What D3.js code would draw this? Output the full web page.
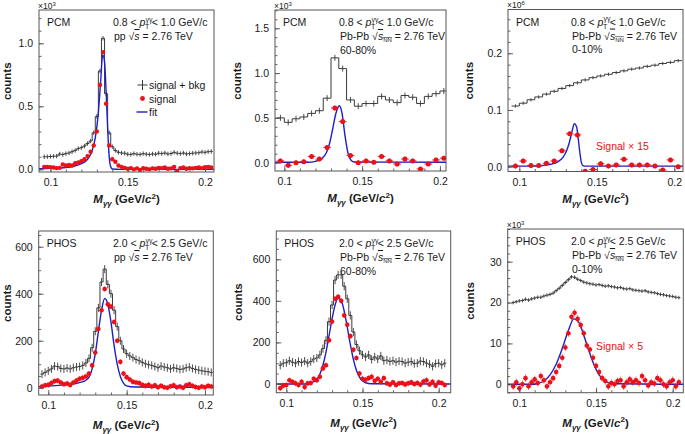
<!DOCTYPE html>
<html><head><meta charset="utf-8">
<script src="https://cdn.jsdelivr.net/npm/d3@7"></script>
<style>
body{margin:0;background:#fff}
svg{display:block}
text{font-family:"Liberation Sans",Arial,Helvetica,sans-serif;fill:#1a1a1a}
</style>
</head><body><svg id="c" width="685" height="434"></svg>
<script>
// ---------------- DATA ----------------
const bins2 = [0.096,0.098,0.100,0.102,0.104,0.106,0.108,0.110,0.112,0.114,
  0.116,0.118,0.120,0.122,0.124,0.126,0.128,0.130,0.132,0.134,
  0.136,0.138,0.140,0.142,0.144,0.146,0.148,0.150,0.152,0.154,
  0.156,0.158,0.160,0.162,0.164,0.166,0.168,0.170,0.172,0.174,
  0.176,0.178,0.180,0.182,0.184,0.186,0.188,0.190,0.192,0.194,
  0.196,0.198,0.200,0.202,0.204];
const bins5 = [0.0975,0.1025,0.1075,0.1125,0.1175,0.1225,0.1275,0.1325,0.1375,0.1425,
  0.1475,0.1525,0.1575,0.1625,0.1675,0.1725,0.1775,0.1825,0.1875,0.1925,0.1975,0.2025];

const xTicks = [0.1, 0.15, 0.2];
const xTickLabels = ["0.1", "0.15", "0.2"];

// Panel 1: PCM pp (x10^3)
const p1Total = [0.100,0.100,0.102,0.104,0.105,0.122,0.118,0.125,0.130,0.140,
  0.150,0.165,0.172,0.185,0.205,0.225,0.290,0.420,0.780,1.040,
  0.600,0.290,0.180,0.150,0.135,0.130,0.128,0.120,0.118,0.125,
  0.120,0.118,0.125,0.120,0.118,0.122,0.120,0.128,0.125,0.130,
  0.122,0.125,0.135,0.128,0.125,0.130,0.122,0.125,0.128,0.130,
  0.132,0.138,0.135,0.140,0.142];
const p1Signal = [0.020,0.020,0.018,0.015,0.010,0.012,0.038,0.030,0.035,0.030,
  0.048,0.055,0.065,0.080,0.105,0.140,0.190,0.300,0.670,0.930,
  0.520,0.190,0.080,0.060,0.030,0.020,0.012,0.005,0.010,0.000,
  0.008,-0.005,0.010,0.005,0.000,0.008,0.005,0.012,0.010,0.015,
  0.005,0.008,0.020,-0.015,0.010,0.015,0.005,0.010,0.008,0.012,
  0.015,0.010,0.018,0.020,0.015];
const p1FitX = [0.092,0.100,0.110,0.115,0.120,0.124,0.127,0.129,0.131,0.1325,0.1338,0.135,0.136,0.137,0.138,0.139,0.140,0.145,0.207];
const p1FitY = [0.005,0.008,0.015,0.025,0.045,0.080,0.150,0.250,0.450,0.700,0.910,0.850,0.620,0.330,0.100,0.020,0.003,0.000,0.000];
const p1YTicks = [0, 0.5, 1.0];
const p1YTickLabels = ["0.0", "0.5", "1.0"];

// Panel 2: PCM Pb-Pb 60-80% (x10^3)
const p2Total = [0.50,0.45,0.49,0.51,0.55,0.58,0.72,1.17,1.05,0.70,0.63,0.66,0.66,0.74,0.70,0.67,0.75,0.73,0.66,0.74,0.77,0.80];
const p2Signal = [0.02,-0.03,0.00,0.01,0.07,0.04,0.17,0.61,0.46,0.08,0.00,0.02,0.005,0.07,0.02,-0.015,0.04,0.02,-0.07,-0.015,0.03,0.05];
const p2FitX = [0.092,0.115,0.120,0.124,0.127,0.129,0.131,0.133,0.1352,0.137,0.139,0.141,0.143,0.145,0.207];
const p2FitY = [0.005,0.005,0.015,0.045,0.110,0.210,0.370,0.540,0.635,0.560,0.300,0.100,0.025,0.008,0.005];
const p2YTicks = [0, 0.5, 1.0, 1.5];
const p2YTickLabels = ["0.0", "0.5", "1.0", "1.5"];

// Panel 3: PCM Pb-Pb 0-10% (x10^6), signal scaled x15
const p3Total = [0.107,0.112,0.118,0.123,0.128,0.133,0.138,0.143,0.148,0.153,0.157,0.160,0.163,0.166,0.169,0.172,0.174,0.177,0.179,0.182,0.184,0.187];
const p3Signal = [0.001,0.010,0.002,0.002,0.006,0.010,0.028,0.058,0.056,-0.008,-0.005,0.005,0.001,0.003,0.013,0.003,0.003,0.003,0.001,-0.006,0.012,0.000];
const p3FitX = [0.092,0.110,0.115,0.120,0.125,0.128,0.130,0.132,0.134,0.1355,0.137,0.138,0.139,0.140,0.141,0.143,0.207];
const p3FitY = [0.001,0.001,0.002,0.004,0.009,0.016,0.025,0.040,0.062,0.076,0.070,0.050,0.026,0.008,0.002,0.001,0.001];
const p3YTicks = [0, 0.1, 0.2];
const p3YTickLabels = ["0.0", "0.1", "0.2"];

// Panel 4: PHOS pp
const p4Total = [58,65,72,80,92,90,82,80,84,80,
  85,88,90,95,105,125,170,240,340,450,
  505,440,400,330,260,200,165,145,135,128,
  120,115,108,102,98,95,90,85,92,88,
  85,80,85,82,78,80,85,88,82,78,
  75,72,70,68,65];
const p4Signal = [5,10,12,20,28,30,22,15,18,12,
  22,30,38,42,48,60,95,150,250,330,
  420,355,345,280,200,110,60,45,35,25,
  22,20,12,8,12,5,10,2,8,2,
  0,6,10,2,5,0,10,15,8,3,
  0,5,2,8,5];
const p4FitX = [0.092,0.100,0.110,0.120,0.124,0.126,0.128,0.130,0.132,0.134,0.136,0.138,0.140,0.142,0.144,0.146,0.148,0.150,0.155,0.207];
const p4FitY = [4,7,12,22,32,45,80,145,240,330,380,355,280,180,100,48,20,8,3,2];
const p4YTicks = [0, 200, 400, 600];
const p4YTickLabels = ["0", "200", "400", "600"];

// Panel 5: PHOS Pb-Pb 60-80%
const p5Total = [90,100,102,112,105,100,108,103,110,100,
  108,120,125,140,170,210,300,380,500,525,
  525,470,410,330,250,190,160,140,130,140,
  118,130,120,135,112,115,108,112,105,110,
  108,100,105,108,98,100,110,108,100,95,
  85,98,100,92,100];
const p5Signal = [-20,-8,-5,18,10,3,-5,10,-15,3,
  5,25,18,35,75,90,210,300,410,420,
  400,330,285,230,165,125,50,25,20,28,
  35,15,25,10,28,3,-3,8,-5,3,
  5,-2,3,8,0,5,-3,12,18,-2,
  10,-8,8,5,-5];
const p5FitX = [0.092,0.112,0.116,0.120,0.122,0.124,0.126,0.128,0.130,0.132,0.134,0.136,0.138,0.140,0.142,0.144,0.146,0.148,0.150,0.152,0.156,0.209];
const p5FitY = [0,0,4,22,47,90,152,231,313,380,414,402,350,273,190,118,66,33,15,6,1,0];
const p5YTicks = [0, 200, 400, 600];
const p5YTickLabels = ["0", "200", "400", "600"];

// Panel 6: PHOS Pb-Pb 0-10% (x10^3), signal scaled x5
const p6Total = [20.0,20.2,20.4,20.5,20.8,20.6,20.9,21.1,21.3,21.3,
  21.6,21.8,22.0,22.3,22.9,23.5,24.2,24.9,25.6,26.3,
  26.2,25.7,25.4,25.0,24.8,24.6,24.5,24.3,24.4,24.2,
  24.0,24.1,23.9,23.8,23.6,23.7,23.4,23.3,23.4,23.1,
  23.0,22.9,22.8,22.9,22.6,22.5,22.4,22.2,22.0,21.9,
  21.7,21.6,21.5,21.3,21.2];
const p6Signal = [-0.5,0.5,-1.0,0.0,1.5,-0.5,0.5,1.2,0.3,2.0,
  1.0,-0.5,0.5,1.5,3.0,4.5,6.5,9.0,12.5,16.5,
  17.5,16.0,14.5,12.5,9.5,8.5,6.5,4.5,3.0,1.5,
  0.8,-0.5,0.3,0.0,0.8,1.0,-0.5,0.5,1.2,0.5,
  1.0,0.3,2.0,1.0,-0.3,0.5,0.2,1.5,1.0,0.0,
  -0.5,0.5,1.0,-0.5,0.5];
const p6FitX = [0.092,0.108,0.112,0.116,0.120,0.124,0.128,0.132,0.1355,0.139,0.142,0.145,0.148,0.152,0.156,0.160,0.208];
const p6FitY = [0,0,0.2,0.8,2.3,4.9,8.8,13.2,16.0,15.0,12.0,8.6,5.4,2.3,0.8,0.2,0];
const p6YTicks = [0, 10, 20, 30];
const p6YTickLabels = ["0", "10", "20", "30"];

// ---------------- LAYOUT ----------------
const RED = "#ec1018", BLUE = "#1f1fc4", HIST = "#3a3a3a";
const panels = [
  {id:1, box:[39,10,214,172], xDom:[0.0926,0.2058], yDom:[-0.021,1.264], bins:bins2, bw:0.002,
   total:p1Total, signal:p1Signal, fitX:p1FitX, fitY:p1FitY, yTicks:p1YTicks, yLabels:p1YTickLabels, yMinor:0.1,
   totErr:0.008, sigErr:0.012, exp:"3", det:"PCM", pt:["0.8","1.0"], sys:"pp", cent:null, textX:113, titleX:10.5, r:2.2, eo:0.55},
  {id:2, box:[275,10,446,171], xDom:[0.0940,0.2039], yDom:[-0.093,1.704], bins:bins5, bw:0.005,
   total:p2Total, signal:p2Signal, fitX:p2FitX, fitY:p2FitY, yTicks:p2YTicks, yLabels:p2YTickLabels, yMinor:0.1,
   totErr:0.02, sigErr:0.025, exp:"3", det:"PCM", pt:["0.8","1.0"], sys:"PbPb", cent:"60-80%", textX:339, titleX:241, r:2.5, eo:0.85},
  {id:3, box:[508,9.5,683,171.5], xDom:[0.0927,0.2056], yDom:[-0.0085,0.2772], bins:bins5, bw:0.005,
   total:p3Total, signal:p3Signal, fitX:p3FitX, fitY:p3FitY, yTicks:p3YTicks, yLabels:p3YTickLabels, yMinor:0.02,
   totErr:0.0008, sigErr:0.004, exp:"6", det:"PCM", pt:["0.8","1.0"], sys:"PbPb", cent:"0-10%", textX:571, titleX:473, r:2.5, eo:0.85,
   note:"Signal \u00d7 15", noteX:596, noteY:150},
  {id:4, box:[38.7,231,213.3,395], xDom:[0.0939,0.2053], yDom:[-31,667], bins:bins2, bw:0.002,
   total:p4Total, signal:p4Signal, fitX:p4FitX, fitY:p4FitY, yTicks:p4YTicks, yLabels:p4YTickLabels, yMinor:50,
   totErr:12, sigErr:12, exp:null, det:"PHOS", pt:["2.0","2.5"], sys:"pp", cent:null, textX:113, titleX:10.5, r:2.3, eo:0.55},
  {id:5, box:[276.3,231,450.7,392.7], xDom:[0.0934,0.2079], yDom:[-42,736], bins:bins2, bw:0.002,
   total:p5Total, signal:p5Signal, fitX:p5FitX, fitY:p5FitY, yTicks:p5YTicks, yLabels:p5YTickLabels, yMinor:50,
   totErr:14, sigErr:14, exp:null, det:"PHOS", pt:["2.0","2.5"], sys:"PbPb", cent:"60-80%", textX:339, titleX:242, r:2.3, eo:0.55},
  {id:6, box:[507.7,229,683.3,392.7], xDom:[0.0924,0.2069], yDom:[-2.06,38.0], bins:bins2, bw:0.002,
   total:p6Total, signal:p6Signal, fitX:p6FitX, fitY:p6FitY, yTicks:p6YTicks, yLabels:p6YTickLabels, yMinor:2,
   totErr:0.15, sigErr:0.9, exp:"3", det:"PHOS", pt:["2.0","2.5"], sys:"PbPb", cent:"0-10%", textX:571, titleX:474, r:2.3, eo:0.6,
   note:"Signal \u00d7 5", noteX:596, noteY:350}
];

const svg = d3.select("#c");
const defs = svg.append("defs");

function ptText(g, x, yb, lo, hi) {
  const t = g.append("text").attr("x", x).attr("y", yb).attr("font-size", 10.5);
  t.append("tspan").text(lo + " < ");
  t.append("tspan").attr("font-style", "italic").text("p");
  t.append("tspan").attr("font-size", 7).attr("dy", -4.5).text("\u03b3\u03b3");
  t.append("tspan").attr("font-size", 7).attr("dx", -7.5).attr("dy", 7.5).text("T");
  t.append("tspan").attr("dy", -3).attr("dx", 2.5).text("< " + hi + " GeV/c");
}
function sysText(g, x, yb, sys) {
  const t = g.append("text").attr("x", x).attr("y", yb).attr("font-size", 10.5);
  if (sys === "pp") {
    t.append("tspan").text("pp \u221a");
    t.append("tspan").attr("font-style", "italic").attr("text-decoration", "overline").text("s");
    t.append("tspan").text(" = 2.76 TeV");
  } else {
    t.append("tspan").text("Pb-Pb \u221a");
    t.append("tspan").attr("font-style", "italic").attr("text-decoration", "overline").text("s");
    t.append("tspan").attr("font-size", 6).attr("dy", 2).attr("text-decoration", "overline").text("NN");
    t.append("tspan").attr("dy", -2).text(" = 2.76 TeV");
  }
}

panels.forEach(P => {
  const [x0, y0, x1, y1] = P.box;
  const x = d3.scaleLinear().domain(P.xDom).range([x0, x1]);
  const y = d3.scaleLinear().domain(P.yDom).range([y1, y0]);
  const g = svg.append("g");
  defs.append("clipPath").attr("id", "clip" + P.id)
    .append("rect").attr("x", x0).attr("y", y0).attr("width", x1 - x0).attr("height", y1 - y0);
  const gc = g.append("g").attr("clip-path", `url(#clip${P.id})`);

  // signal + bkg histogram (step)
  const hw = P.bw / 2;
  let d = "";
  P.bins.forEach((c, i) => {
    const v = y(P.total[i]);
    d += (i === 0 ? `M${x(c - hw)},${v}` : `V${v}`) + `H${x(c + hw)}`;
  });
  gc.append("path").attr("d", d).attr("fill", "none").attr("stroke", HIST).attr("stroke-width", 1);
  gc.selectAll(null).data(P.bins).join("line")
    .attr("x1", c => x(c)).attr("x2", c => x(c))
    .attr("y1", (c, i) => y(P.total[i] - P.totErr) + 1.2)
    .attr("y2", (c, i) => y(P.total[i] + P.totErr) - 1.2)
    .attr("stroke", HIST).attr("stroke-width", 0.9);

  // fit
  const pts = P.fitX.map((v, i) => [v, P.fitY[i]]);
  gc.append("path").datum(pts)
    .attr("d", d3.line().x(p => x(p[0])).y(p => y(p[1])).curve(d3.curveMonotoneX))
    .attr("fill", "none").attr("stroke", BLUE).attr("stroke-width", 1.4);

  // signal points with error bars
  const sg = gc.append("g");
  sg.selectAll(null).data(P.bins).join("line")
    .attr("x1", c => x(c - hw)).attr("x2", c => x(c + hw))
    .attr("y1", (c, i) => y(P.signal[i])).attr("y2", (c, i) => y(P.signal[i]))
    .attr("stroke", RED).attr("stroke-opacity", P.eo).attr("stroke-width", 1);
  sg.selectAll(null).data(P.bins).join("line")
    .attr("x1", c => x(c)).attr("x2", c => x(c))
    .attr("y1", (c, i) => y(P.signal[i] - P.sigErr)).attr("y2", (c, i) => y(P.signal[i] + P.sigErr))
    .attr("stroke", RED).attr("stroke-opacity", P.eo).attr("stroke-width", 1);
  sg.selectAll(null).data(P.bins).join("circle")
    .attr("cx", c => x(c)).attr("cy", (c, i) => y(P.signal[i])).attr("r", P.r)
    .attr("fill", RED);

  // axes
  const xAxMinor = d3.axisBottom(x).tickValues(d3.range(0.1, 0.2051, 0.01)).tickSize(-2.5).tickFormat("");
  const xAx = d3.axisBottom(x).tickValues(xTicks).tickSize(-5).tickPadding(7)
    .tickFormat((v, i) => xTickLabels[i]);
  const ax1 = g.append("g").attr("transform", `translate(0,${y1})`).call(xAxMinor);
  const ax2 = g.append("g").attr("transform", `translate(0,${y1})`).call(xAx);
  const yMin = [];
  for (let v = Math.ceil(P.yDom[0] / P.yMinor) * P.yMinor; v <= P.yDom[1]; v += P.yMinor) yMin.push(+v.toFixed(6));
  const yAxMinor = d3.axisLeft(y).tickValues(yMin).tickSize(-2.5).tickFormat("");
  const yAx = d3.axisLeft(y).tickValues(P.yTicks).tickSize(-5).tickPadding(6)
    .tickFormat((v, i) => P.yLabels[i]);
  const ay1 = g.append("g").attr("transform", `translate(${x0},0)`).call(yAxMinor);
  const ay2 = g.append("g").attr("transform", `translate(${x0},0)`).call(yAx);
  [ax1, ax2, ay1, ay2].forEach(a => {
    a.select(".domain").remove();
    a.selectAll("line").attr("stroke", "#555").attr("stroke-width", 0.9);
    a.selectAll("text").attr("font-size", 10.5).attr("fill", "#222")
      .attr("font-family", '"Liberation Sans",Arial,sans-serif');
  });
  ax2.selectAll("text").attr("dy", "0.71em");

  // frame
  g.append("rect").attr("x", x0).attr("y", y0).attr("width", x1 - x0).attr("height", y1 - y0)
    .attr("fill", "none").attr("stroke", "#555").attr("stroke-width", 1);

  // exponent
  if (P.exp) {
    const t = g.append("text").attr("x", x0 - 1).attr("y", y0 - 1.5).attr("font-size", 8.5).attr("fill", "#444");
    t.append("tspan").text("\u00d710");
    t.append("tspan").attr("font-size", 6).attr("dy", -3).text(P.exp);
  }

  // panel texts
  const top = y0;
  g.append("text").attr("x", x0 + 8).attr("y", top + 16).attr("font-size", 10.5).text(P.det);
  ptText(g, P.textX, top + 16, P.pt[0], P.pt[1]);
  sysText(g, P.textX + 1, top + 30, P.sys);
  if (P.cent) g.append("text").attr("x", P.textX + 1).attr("y", top + 43.5).attr("font-size", 10.5).text(P.cent);
  if (P.note) g.append("text").attr("x", P.noteX).attr("y", P.noteY).attr("font-size", 10.5)
    .attr("fill", RED).style("fill", RED).text(P.note);

  // axis titles
  const xt = g.append("text").attr("x", (x0 + x1) / 2).attr("y", y1 + (y1 > 300 ? 34 : 31))
    .attr("text-anchor", "middle").attr("font-size", 11.5).attr("font-weight", "bold");
  xt.append("tspan").attr("font-style", "italic").text("M");
  xt.append("tspan").attr("font-style", "italic").attr("font-size", 8).attr("dy", 3).text("\u03b3\u03b3");
  xt.append("tspan").attr("dy", -3).text(" (GeV/");
  xt.append("tspan").attr("font-style", "italic").text("c");
  xt.append("tspan").attr("font-size", 8).attr("dy", -4.5).text("2");
  xt.append("tspan").attr("dy", 4.5).text(")");

  const cy = y0 + 0.44 * (y1 - y0);
  g.append("text").attr("transform", `translate(${P.titleX},${cy}) rotate(-90)`)
    .attr("text-anchor", "middle").attr("font-size", 11.5).attr("font-weight", "bold").text("counts");

  // legend in first panel
  if (P.id === 1) {
    const lx = 142.5;
    g.append("line").attr("x1", lx - 5).attr("x2", lx + 5).attr("y1", 85).attr("y2", 85).attr("stroke", HIST);
    g.append("line").attr("x1", lx).attr("x2", lx).attr("y1", 80).attr("y2", 90).attr("stroke", HIST);
    g.append("text").attr("x", 149).attr("y", 89).attr("font-size", 10.5).text("signal + bkg");
    g.append("circle").attr("cx", lx).attr("cy", 98.5).attr("r", 2.4).attr("fill", RED);
    g.append("text").attr("x", 149).attr("y", 102.5).attr("font-size", 10.5).text("signal");
    g.append("line").attr("x1", lx - 6).attr("x2", lx + 5).attr("y1", 112).attr("y2", 112).attr("stroke", BLUE).attr("stroke-width", 1.4);
    g.append("text").attr("x", 149).attr("y", 116).attr("font-size", 10.5).text("fit");
  }
});
</script>
</body></html>
